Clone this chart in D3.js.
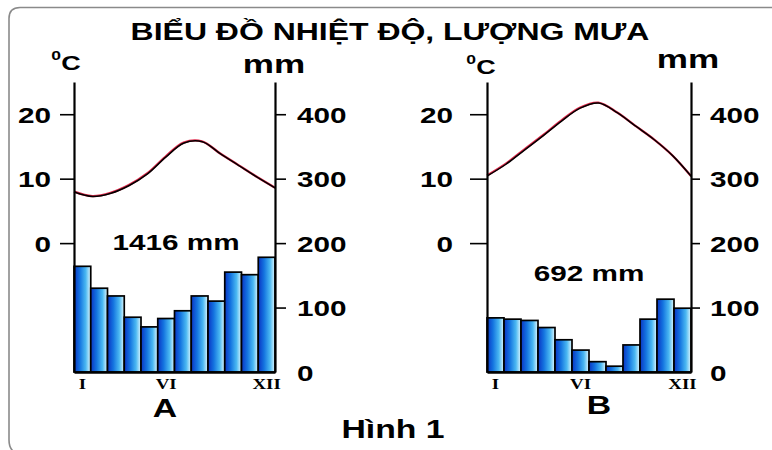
<!DOCTYPE html>
<html>
<head>
<meta charset="utf-8">
<script src="https://cdn.jsdelivr.net/npm/d3@7"></script>
<style>
  html, body { margin: 0; padding: 0; background: #fff; }
  svg { display: block; }
</style>
</head>
<body>
<svg id="chart" width="772" height="450"></svg>
<script>
// ---------- DATA ----------
const months = ["I","II","III","IV","V","VI","VII","VIII","IX","X","XI","XII"];
const monthTicks = ["I","VI","XII"];
const rainA = [164,130,118,85,70,83,95,118,110,155,151,178];
const tempA = [8.0,7.3,7.8,9.0,10.8,13.4,15.6,15.8,13.9,12.1,10.3,8.6];
const rainB = [84,82,80,69,50,34,16,9,42,82,113,99];
const tempB = [10.5,12.3,14.5,16.7,19.0,21.0,21.8,20.3,18.2,16.1,13.6,10.4];
const tempTicks = [0,10,20];
const rainTicks = [0,100,200,300,400];
const totals = ["1416 mm","692 mm"];
const panelNames = ["A","B"];
const titleText = "BIỂU ĐỒ NHIỆT ĐỘ, LƯỢNG MƯA";
const figText = "Hình 1";

// ---------- SETUP ----------
const SX = 1.35; // horizontal stretch of the original picture
const svg = d3.select("#chart");
const SANS = "'Liberation Sans', Arial, sans-serif";
const SERIF = "'Liberation Serif', 'Times New Roman', serif";

const defs = svg.append("defs");
const grad = defs.append("linearGradient").attr("id","barGrad")
  .attr("x1","0%").attr("x2","100%").attr("y1","0%").attr("y2","0%");
[["0%","#0a34c4"],["35%","#1474e0"],["70%","#4ab8f2"],["100%","#e2f8ff"]]
  .forEach(([o,c]) => grad.append("stop").attr("offset",o).attr("stop-color",c));

function stext(x, y, str, o) {
  const t = svg.append("text")
    .attr("transform", `translate(${x},${y}) scale(${o.sx || SX},1)`)
    .attr("text-anchor", o.anchor || "middle")
    .attr("font-family", o.family || SANS)
    .attr("font-size", o.size)
    .attr("font-weight", o.weight || "normal")
    .attr("fill", "#000");
  t.text(str);
  return t;
}

// frame
svg.append("path")
  .attr("d", "M 780,7.5 H 20 Q 9,7.5 9,18.5 V 440 Q 9,448 14,452")
  .attr("fill","none").attr("stroke","#8a8a8a").attr("stroke-width",1.6);

// title
stext(390, 40, titleText, {size: 23.5, weight: "bold", sx: 1.36});

const panels = [
  {x0: 74, x1: 275, rain: rainA, temp: tempA, total: totals[0], name: panelNames[0],
   lTick: 14, lLab: 23, rTick: 11, rLab: 22,
   degX: 66, degY: 70, mmX: 274, mmY: 73, totX: 176, totY: 250, nameX: 165, nameY: 417},
  {x0: 487, x1: 691, rain: rainB, temp: tempB, total: totals[1], name: panelNames[1],
   lTick: 17, lLab: 34, rTick: 9, rLab: 19,
   degX: 481, degY: 74, mmX: 688, mmY: 68, totX: 589, totY: 281, nameX: 599, nameY: 414}
];

const Y0 = 372, YTOP = 82;

panels.forEach(p => {
  const yMM = d3.scaleLinear().domain([0,450]).range([Y0, YTOP]);
  const yT = d3.scaleLinear().domain([-20,25]).range([Y0, YTOP]);
  const xB = d3.scaleBand().domain(months).range([p.x0, p.x1]).padding(0);
  const xP = d3.scalePoint().domain(months).range([p.x0, p.x1]);

  // bars
  svg.append("g").selectAll("rect").data(p.rain).join("rect")
    .attr("x", (d,i) => xB(months[i]))
    .attr("y", d => yMM(d))
    .attr("width", xB.bandwidth())
    .attr("height", d => Y0 - yMM(d))
    .attr("fill", "url(#barGrad)")
    .attr("stroke", "#000").attr("stroke-width", 1.7);

  // temperature line
  const line = d3.line().x((d,i) => xP(months[i])).y(d => yT(d)).curve(d3.curveCatmullRom);
  svg.append("path").datum(p.temp).attr("d", line)
    .attr("fill","none").attr("stroke","#e0284a").attr("stroke-width",2.3);
  svg.append("path").datum(p.temp).attr("d", line)
    .attr("fill","none").attr("stroke","#000").attr("stroke-width",1.5)
    .attr("transform","translate(0.4,0.4)");

  // left axis (temperature)
  const gl = svg.append("g").attr("transform", `translate(${p.x0},0)`)
    .call(d3.axisLeft(yT).tickValues(tempTicks).tickSize(p.lTick).tickSizeOuter(0).tickFormat(d3.format("d")));
  gl.select(".domain").attr("stroke","#000").attr("stroke-width",2.2);
  gl.selectAll(".tick line").attr("stroke","#000").attr("stroke-width",1.6);
  gl.selectAll(".tick text")
    .attr("x", -p.lLab / SX).attr("dy", null).attr("y", 8)
    .attr("transform", `scale(${SX},1)`)
    .attr("font-family", SANS).attr("font-size", 22).attr("font-weight","bold").attr("fill","#000");

  // right axis (rainfall)
  const gr = svg.append("g").attr("transform", `translate(${p.x1},0)`)
    .call(d3.axisRight(yMM).tickValues(rainTicks).tickSize(p.rTick).tickSizeOuter(0).tickFormat(d3.format("d")));
  gr.select(".domain").attr("stroke","#000").attr("stroke-width",2.2);
  gr.selectAll(".tick line").attr("stroke","#000").attr("stroke-width",1.6)
    .attr("opacity", d => d === 0 ? 0 : 1);
  gr.selectAll(".tick text")
    .attr("x", p.rLab / SX).attr("dy", null).attr("y", 8)
    .attr("transform", `scale(${SX},1)`)
    .attr("font-family", SANS).attr("font-size", 22).attr("font-weight","bold").attr("fill","#000");

  // bottom axis (months)
  const gb = svg.append("g").attr("transform", `translate(0,${Y0})`)
    .call(d3.axisBottom(xB).tickValues(monthTicks).tickSize(0).tickSizeOuter(0));
  gb.select(".domain").attr("stroke","#000").attr("stroke-width",2.4);
  gb.selectAll(".tick text")
    .attr("x", 0).attr("y", 17).attr("dy", null)
    .attr("transform", `scale(${SX},1)`)
    .attr("font-family", SERIF).attr("font-size", 14).attr("font-weight","bold").attr("fill","#000");

  // unit labels
  const deg = stext(p.degX, p.degY, "", {size: 20, weight: "bold"});
  deg.append("tspan").attr("font-size", 13).attr("dy", -10).text("0");
  deg.append("tspan").attr("dy", 10).text("C");
  stext(p.mmX, p.mmY, "mm", {size: 26, weight: "bold"});

  // total rainfall
  stext(p.totX, p.totY, p.total, {size: 22, weight: "bold"});
  // panel name
  stext(p.nameX, p.nameY, p.name, {size: 25, weight: "bold"});
});

stext(393, 438, figText, {size: 25, weight: "bold"});
</script>
</body>
</html>
